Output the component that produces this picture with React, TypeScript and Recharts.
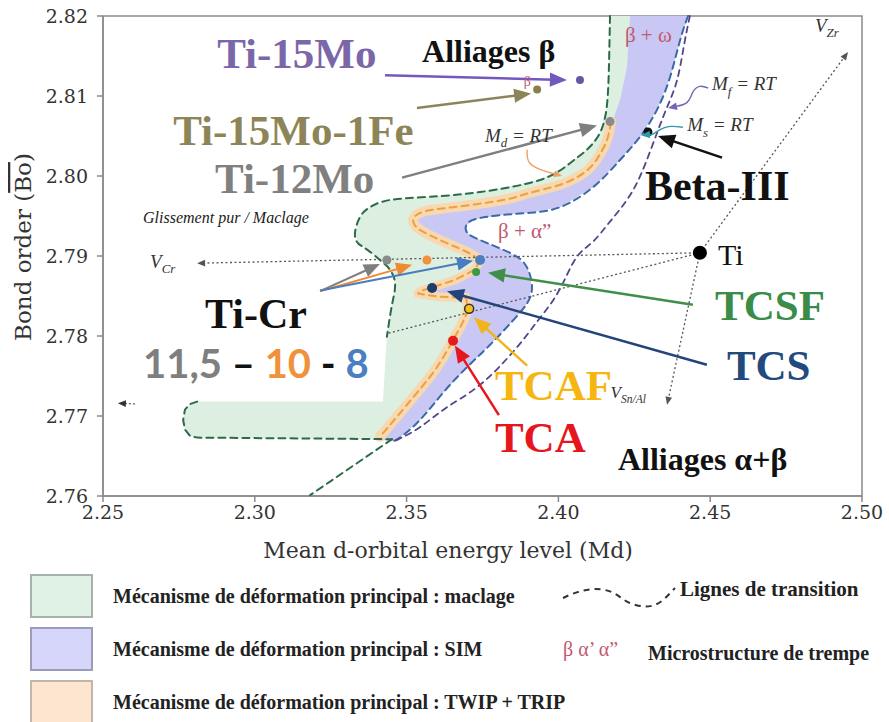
import React from 'react';
import { ComposedChart, Scatter, XAxis, YAxis, ReferenceArea, Curve, Label } from 'recharts';

// axis ticks (Md, Bo)
const xTicks = [2.25, 2.3, 2.35, 2.4, 2.45, 2.5];
const yTicks = [2.76, 2.77, 2.78, 2.79, 2.8, 2.81, 2.82];

// boundary lines, as [Md, Bo]
const maclageLine = [
  [2.417, 2.82], [2.4167, 2.8145], [2.416, 2.8089], [2.4137, 2.8054], [2.4094, 2.8033],
  [2.4038, 2.8016], [2.3939, 2.7995], [2.3742, 2.798], [2.3577, 2.7974], [2.3445, 2.797],
  [2.3379, 2.7961], [2.3347, 2.7949], [2.333, 2.7929], [2.334, 2.7916], [2.337, 2.7908],
  [2.3412, 2.7895], [2.3445, 2.7883], [2.3462, 2.7866], [2.3455, 2.7845], [2.3445, 2.7824],
  [2.3435, 2.7799],
];
const maclageCut = [[2.3422, 2.7718]];
const maclageFoot = [
  [2.281, 2.7718], [2.2787, 2.7715], [2.277, 2.7708], [2.2764, 2.7695], [2.277, 2.7683],
  [2.2787, 2.7675], [2.281, 2.7673], [2.3452, 2.7671],
];
const transitionTail = [[2.3452, 2.7671], [2.3182, 2.7601]];

const simLine = [
  [2.4427, 2.82], [2.4401, 2.817], [2.4368, 2.8124], [2.4325, 2.8083], [2.4269, 2.8049],
  [2.4203, 2.802], [2.4114, 2.7986], [2.4005, 2.7961], [2.3906, 2.7954], [2.3808, 2.7951],
  [2.3725, 2.7946], [2.3696, 2.7938], [2.3702, 2.7928], [2.3742, 2.792], [2.3798, 2.7911],
  [2.3864, 2.7899], [2.39, 2.7883], [2.3913, 2.7861], [2.3897, 2.7841], [2.3847, 2.7818],
  [2.3775, 2.7789], [2.3699, 2.7761], [2.362, 2.7729], [2.3544, 2.7695], [2.3478, 2.7673],
  [2.3455, 2.7669],
];
const simTopEdge = [[2.4236, 2.82], [2.4226, 2.8136], [2.4203, 2.8095], [2.418, 2.807]];
const simFootTip = [[2.3386, 2.767]];

const twipTop = [
  [2.4173, 2.8068], [2.416, 2.8045], [2.413, 2.8023], [2.4088, 2.8005], [2.4005, 2.7989],
  [2.3906, 2.7979], [2.3818, 2.797], [2.3653, 2.7961], [2.3561, 2.7956], [2.3524, 2.7948],
  [2.3528, 2.7938], [2.3561, 2.7929], [2.3633, 2.7916], [2.3699, 2.7905], [2.3742, 2.7895],
];
const twipSpur = [
  [2.3742, 2.7895], [2.3725, 2.7883], [2.3659, 2.787], [2.3544, 2.7856], [2.3538, 2.7853],
  [2.361, 2.7849], [2.3696, 2.7848], [2.3702, 2.7833],
];
const twipLow = [
  [2.3702, 2.7833], [2.3686, 2.7818], [2.3653, 2.7795], [2.36, 2.7761], [2.3534, 2.7729],
  [2.3468, 2.7699], [2.3412, 2.7674],
];

const mfLine = [
  [2.4433, 2.82], [2.4414, 2.8164], [2.4391, 2.812], [2.4358, 2.8086], [2.4325, 2.8054],
  [2.4285, 2.8014], [2.4236, 2.7976], [2.417, 2.7943], [2.4114, 2.7918], [2.4065, 2.7901],
  [2.4025, 2.7874], [2.3985, 2.7846], [2.393, 2.7818], [2.3857, 2.7783], [2.3742, 2.7739],
  [2.3633, 2.7711], [2.3544, 2.7686], [2.3462, 2.7669],
];

// composition vectors starting at pure Ti
const tiPoint = [2.4466, 2.7904];
const vectors = [
  { name: 'VCr', to: [2.281, 2.7891] },
  { name: 'VSnAl', to: [2.4358, 2.7714] },
  { name: 'VZr', to: [2.4954, 2.8155] },
  { name: 'VAl', to: [2.3435, 2.7803] },
];

// pointers and arrows
const pointers = [
  { name: 'Mf', path: [[2.4493, 2.811], [2.4466, 2.8112], [2.4443, 2.8105], [2.4424, 2.8092], [2.4387, 2.8087], [2.4361, 2.8085]] },
  { name: 'Ms', path: [[2.441, 2.8061], [2.4368, 2.8062], [2.4335, 2.8058], [2.4309, 2.8052], [2.4272, 2.8051]] },
  { name: 'Md', path: [[2.3897, 2.8033], [2.3906, 2.8016], [2.3956, 2.8006], [2.4012, 2.8]] },
  { name: 'Ti-15Mo', path: [[2.3429, 2.8126], [2.4028, 2.812]] },
  { name: 'Ti-15Mo-1Fe', path: [[2.3534, 2.8085], [2.391, 2.8103]] },
  { name: 'Ti-12Mo', path: [[2.3485, 2.7998], [2.4127, 2.8063]] },
  { name: 'Beta-III', path: [[2.4539, 2.8023], [2.4328, 2.805]] },
  { name: 'Cr11', path: [[2.3215, 2.7856], [2.3412, 2.789]] },
  { name: 'Cr10', path: [[2.3215, 2.7856], [2.3518, 2.7889]] },
  { name: 'Cr8', path: [[2.3215, 2.7857], [2.3719, 2.7894]] },
  { name: 'TCSF', path: [[2.4443, 2.7839], [2.3768, 2.7879]] },
  { name: 'TCS', path: [[2.4489, 2.7764], [2.3633, 2.7856]] },
  { name: 'TCAF', path: [[2.3897, 2.7763], [2.3722, 2.7823]] },
  { name: 'TCA', path: [[2.3804, 2.7701], [2.3659, 2.7788]] },
  { name: 'stub', path: [[2.2605, 2.7715], [2.2549, 2.7716]] },
];

// alloys
const alloyDots = [
  { name: 'Ti-15Mo', x: 2.4071, y: 2.812 },
  { name: 'Ti-15Mo-1Fe', x: 2.393, y: 2.8108 },
  { name: 'Ti-12Mo', x: 2.417, y: 2.8068 },
  { name: 'Beta-III', x: 2.4295, y: 2.8055 },
  { name: 'Ti', x: 2.4466, y: 2.7904 },
  { name: 'Ti-11.5Cr', x: 2.3435, y: 2.7895 },
  { name: 'Ti-10Cr', x: 2.3567, y: 2.7895 },
  { name: 'Ti-8Cr', x: 2.3742, y: 2.7895 },
  { name: 'TCSF', x: 2.3729, y: 2.788 },
  { name: 'TCS', x: 2.3584, y: 2.786 },
  { name: 'TCAF', x: 2.3706, y: 2.7834 },
  { name: 'TCA', x: 2.3653, y: 2.7794 },
];

// texts, anchored at start / baseline
const labels = [
  { id: 'Ti-15Mo', text: 'Ti-15Mo', x: 2.2876, y: 2.8135 },
  { id: 'alliagesB', text: 'Alliages β', x: 2.3551, y: 2.8143 },
  { id: 'Ti-15Mo-1Fe', text: 'Ti-15Mo-1Fe', x: 2.2731, y: 2.8039 },
  { id: 'Ti-12Mo', text: 'Ti-12Mo', x: 2.2869, y: 2.7979 },
  { id: 'glissement', text: 'Glissement pur / Maclage', x: 2.2632, y: 2.7941 },
  { id: 'VCr', text: 'V|Cr', x: 2.2655, y: 2.7885 },
  { id: 'Ti-Cr', text: 'Ti-Cr', x: 2.2836, y: 2.781 },
  { id: 'crNums', text: '11,5| – |10| - |8', x: 2.2632, y: 2.7748 },
  { id: 'Beta-III', text: 'Beta-III', x: 2.4285, y: 2.797 },
  { id: 'Ti', text: 'Ti', x: 2.4526, y: 2.7889 },
  { id: 'TCSF', text: 'TCSF', x: 2.4516, y: 2.782 },
  { id: 'TCS', text: 'TCS', x: 2.4555, y: 2.7745 },
  { id: 'VSnAl', text: 'V|Sn/Al', x: 2.4172, y: 2.7722 },
  { id: 'TCAF', text: 'TCAF', x: 2.3791, y: 2.772 },
  { id: 'TCA', text: 'TCA', x: 2.3791, y: 2.7655 },
  { id: 'alliagesAB', text: 'Alliages α+β', x: 2.4196, y: 2.7633 },
  { id: 'VZr', text: 'V|Zr', x: 2.4845, y: 2.818 },
  { id: 'Mf', text: 'M|f| = RT', x: 2.4506, y: 2.8107 },
  { id: 'Ms', text: 'M|s| = RT', x: 2.4424, y: 2.8056 },
  { id: 'Md', text: 'M|d| = RT', x: 2.3758, y: 2.8043 },
  { id: 'bw', text: 'β + ω', x: 2.4219, y: 2.8168 },
  { id: 'ba', text: 'β + α”', x: 2.3801, y: 2.7922 },
  { id: 'bSmall', text: 'β', x: 2.3886, y: 2.8112 },
];

const legendBoxes = [
  { label: 'Mécanisme de déformation principal : maclage', fill: '#e0f2e5', border: '#a7b3aa' },
  { label: 'Mécanisme de déformation principal : SIM', fill: '#d6d6fb', border: '#9c9cb8' },
  { label: 'Mécanisme de déformation principal : TWIP + TRIP', fill: '#fde6cf', border: '#c4b6a6' },
];

const SERIF = '"Liberation Serif", serif';
const AXIS_FONT = '"DejaVu Serif", serif';

const labelStyles: Record<string, any> = {
  'Ti-15Mo': { color: '#7a66a8', size: 43, bold: true },
  alliagesB: { color: '#111', size: 32, bold: true },
  'Ti-15Mo-1Fe': { color: '#8d8557', size: 43, bold: true },
  'Ti-12Mo': { color: '#808080', size: 43, bold: true },
  glissement: { color: '#222', size: 16, italic: true },
  VCr: { color: '#333', size: 19, italic: true, sub: true },
  'Ti-Cr': { color: '#111', size: 42, bold: true },
  crNums: { color: '#111', size: 40, bold: true, font: 'Lato, sans-serif', parts: ['#7f7f7f', '#111', '#f0923c', '#111', '#4a7fc1'] },
  'Beta-III': { color: '#111', size: 42, bold: true },
  Ti: { color: '#111', size: 30 },
  TCSF: { color: '#3a8c48', size: 43, bold: true },
  TCS: { color: '#234a7c', size: 43, bold: true },
  VSnAl: { color: '#333', size: 17, italic: true, sub: true },
  TCAF: { color: '#f5b60f', size: 43, bold: true },
  TCA: { color: '#e5171d', size: 43, bold: true },
  alliagesAB: { color: '#111', size: 32, bold: true },
  VZr: { color: '#333', size: 19, italic: true, sub: true },
  Mf: { color: '#333', size: 19, italic: true, sub: true },
  Ms: { color: '#333', size: 19, italic: true, sub: true },
  Md: { color: '#333', size: 19, italic: true, sub: true },
  bw: { color: '#c0596e', size: 21 },
  ba: { color: '#c0596e', size: 21 },
  bSmall: { color: '#c0596e', size: 14 },
};

const dotStyles: Record<string, any> = {
  'Ti-15Mo': { r: 4, fill: '#6a55a8' },
  'Ti-15Mo-1Fe': { r: 4, fill: '#8a7d4a' },
  'Ti-12Mo': { r: 4.5, fill: '#8a8a8a' },
  'Beta-III': { r: 4.5, fill: '#111' },
  Ti: { r: 7, fill: '#000' },
  'Ti-11.5Cr': { r: 4.5, fill: '#8a8a8a' },
  'Ti-10Cr': { r: 4.5, fill: '#f0923c' },
  'Ti-8Cr': { r: 5, fill: '#4a7fc1' },
  TCSF: { r: 4, fill: '#3a9a45' },
  TCS: { r: 5, fill: '#1f3c6e' },
  TCAF: { r: 4.5, fill: '#f6c21a', stroke: '#333', sw: 1.5 },
  TCA: { r: 5, fill: '#e31b1b' },
};

const pointerStyles: Record<string, any> = {
  Mf: { color: '#7a62b8', width: 1.4, head: 9, curve: 'natural' },
  Ms: { color: '#2f9aa8', width: 1.4, head: 9, curve: 'natural' },
  Md: { color: '#ef9f62', width: 1.4, head: 8, curve: 'natural' },
  'Ti-15Mo': { color: '#7358bd', width: 2.5, head: 17 },
  'Ti-15Mo-1Fe': { color: '#8d8557', width: 2.5, head: 17 },
  'Ti-12Mo': { color: '#7f7f7f', width: 2.5, head: 17 },
  'Beta-III': { color: '#111', width: 2.5, head: 17 },
  Cr11: { color: '#7f7f7f', width: 2, head: 16 },
  Cr10: { color: '#f08a30', width: 2, head: 16 },
  Cr8: { color: '#4a7cc0', width: 2, head: 16 },
  TCSF: { color: '#3f8f49', width: 2.5, head: 17 },
  TCS: { color: '#24457a', width: 2.5, head: 17 },
  TCAF: { color: '#f2b31b', width: 2.5, head: 17 },
  TCA: { color: '#e5171d', width: 2.5, head: 17 },
  stub: { color: '#333', width: 1, head: 8, dash: '2 2' },
};

const vectorHeads: Record<string, number> = { VCr: 8, VSnAl: 8, VZr: 8, VAl: 0 };

const pairs = (a: number[][]) => a.map(([x, y]) => ({ x, y }));
const rev = (a: number[][]) => [...a].reverse();

const maclageArea = pairs([...maclageLine, ...maclageCut, ...maclageFoot, ...rev(simLine)]);
const simArea = pairs([...simTopEdge, ...twipTop, ...twipSpur, ...twipLow, ...simFootTip, ...rev(simLine)]);

const noShape = () => <g />;

const areaRenderer = (fill: string) => (p: any) => (
  <Curve points={p.points} type="linear" fill={fill} stroke="none" />
);

const strokeRenderer = (type: string, stroke: string, width: number, dash?: string) => (p: any) => (
  <Curve
    points={p.points}
    type={type as any}
    fill="none"
    stroke={stroke}
    strokeWidth={width}
    strokeDasharray={dash}
    strokeLinecap="round"
    strokeLinejoin="round"
  />
);

const arrowRenderer = (color: string, width: number, head: number, dash?: string, curve = 'linear') => (p: any) => {
  const pts = p.points;
  const n = pts.length;
  const a = pts[n - 2];
  const b = pts[n - 1];
  const ang = Math.atan2(b.y - a.y, b.x - a.x);
  const c = Math.cos(ang);
  const s = Math.sin(ang);
  const back = head ? head * 0.75 : 0;
  const end = { x: b.x - c * back, y: b.y - s * back };
  const hw = head * 0.42;
  const tri = `${b.x},${b.y} ${b.x - c * head - s * hw},${b.y - s * head + c * hw} ${b.x - c * head + s * hw},${b.y - s * head - c * hw}`;
  return (
    <g>
      <Curve points={[...pts.slice(0, n - 1), end]} type={curve as any} fill="none" stroke={color} strokeWidth={width} strokeDasharray={dash} />
      {head > 0 && <polygon points={tri} fill={color} />}
    </g>
  );
};

const DotMark = (p: any) => {
  const s = dotStyles[p.payload.name];
  return <circle cx={p.cx} cy={p.cy} r={s.r} fill={s.fill} stroke={s.stroke || 'none'} strokeWidth={s.sw || 0} />;
};

const TextMark = (p: any) => {
  const { id, text } = p.payload;
  const s = labelStyles[id];
  const base: any = {
    x: p.cx,
    y: p.cy,
    fill: s.color,
    fontSize: s.size,
    fontFamily: s.font || SERIF,
    fontWeight: s.bold ? 700 : 400,
    fontStyle: s.italic ? 'italic' : 'normal',
    style: { whiteSpace: 'pre' },
  };
  const parts = text.split('|');
  if (s.parts) {
    return (
      <text {...base}>
        {parts.map((t: string, i: number) => (
          <tspan key={i} fill={s.parts[i]}>{t}</tspan>
        ))}
      </text>
    );
  }
  if (s.sub) {
    const d = s.size * 0.28;
    return (
      <text {...base}>
        {parts[0]}
        <tspan fontSize={s.size * 0.68} dy={d}>{parts[1]}</tspan>
        {parts[2] && <tspan fontSize={s.size} dy={-d}>{parts[2]}</tspan>}
      </text>
    );
  }
  return <text {...base}>{text}</text>;
};

const XTitle = (p: any) => {
  const vb = p.viewBox;
  return (
    <text x={vb.x + 345} y={vb.y + 62} textAnchor="middle" fontFamily={AXIS_FONT} fontSize={22} fill="#333">
      Mean d-orbital energy level (Md)
    </text>
  );
};

const YTitle = (p: any) => {
  const vb = p.viewBox;
  const cx = vb.x + 31;
  const cy = vb.y + 231;
  return (
    <text x={cx} y={cy} textAnchor="middle" transform={`rotate(-90 ${cx} ${cy})`} fontFamily={AXIS_FONT} fontSize={23} fill="#333">
      Bond order (<tspan textDecoration="overline">Bo</tspan>)
    </text>
  );
};

const Legend = () => (
  <svg width={889} height={152} style={{ position: 'absolute', left: 0, top: 570 }}>
    {legendBoxes.map((b, i) => (
      <g key={b.label}>
        <rect x={31} y={5 + i * 53} width={61} height={42} fill={b.fill} stroke={b.border} strokeWidth={2} />
        <text x={113} y={33 + i * 53} fontFamily={SERIF} fontWeight={700} fontSize={20} fill="#222">
          {b.label}
        </text>
      </g>
    ))}
    <path d="M563,28 C575,22 590,17 605,20 S622,33 640,36 S665,28 675,18" fill="none" stroke="#333" strokeWidth={2} strokeDasharray="6 5" />
    <text x={680} y={26} fontFamily={SERIF} fontWeight={700} fontSize={21} fill="#222">Lignes de transition</text>
    <text x={563} y={86} fontFamily={SERIF} fontSize={20} fill="#c0596e">β α’ α”</text>
    <text x={648} y={90} fontFamily={SERIF} fontWeight={700} fontSize={20} fill="#222">Microstructure de trempe</text>
  </svg>
);

export default function App() {
  return (
    <div style={{ position: 'absolute', left: 0, top: 0, width: 889, height: 722, background: '#fff', overflow: 'hidden' }}>
      <ComposedChart width={889} height={570} margin={{ top: 16, right: 27, bottom: 14, left: 0 }}>
        <XAxis
          type="number"
          dataKey="x"
          domain={[2.25, 2.5]}
          ticks={xTicks}
          interval={0}
          tickFormatter={(v: number) => v.toFixed(2)}
          height={60}
          stroke="#8a8a8a"
          strokeWidth={1.5}
          tickSize={6}
          tickMargin={4}
          tick={{ fill: '#333', fontSize: 19, fontFamily: AXIS_FONT }}
        >
          <Label content={XTitle} />
        </XAxis>
        <YAxis
          type="number"
          dataKey="y"
          domain={[2.76, 2.82]}
          ticks={yTicks}
          interval={0}
          tickFormatter={(v: number) => v.toFixed(2)}
          width={103}
          stroke="#8a8a8a"
          strokeWidth={1.5}
          tickSize={6}
          tickMargin={9}
          tick={{ fill: '#333', fontSize: 19, fontFamily: AXIS_FONT }}
        >
          <Label content={YTitle} />
        </YAxis>
        <ReferenceArea x1={2.25} x2={2.5} y1={2.76} y2={2.82} fill="none" stroke="#8a8a8a" strokeWidth={1.5} />

        {/* deformation regions */}
        <Scatter data={maclageArea} shape={noShape} line={areaRenderer('#dcefe0')} isAnimationActive={false} />
        <Scatter data={simArea} shape={noShape} line={areaRenderer('#c9c8f4')} isAnimationActive={false} />
        <Scatter data={pairs(twipTop)} shape={noShape} line={strokeRenderer('natural', '#f8d8ae', 10)} isAnimationActive={false} />
        <Scatter data={pairs(twipSpur)} shape={noShape} line={strokeRenderer('linear', '#f8d8ae', 9)} isAnimationActive={false} />
        <Scatter data={pairs(twipLow)} shape={noShape} line={strokeRenderer('natural', '#f8d8ae', 10)} isAnimationActive={false} />

        {/* transition lines */}
        <Scatter data={pairs(maclageLine)} shape={noShape} line={strokeRenderer('natural', '#2c6a48', 2, '7 5')} isAnimationActive={false} />
        <Scatter data={pairs(maclageFoot)} shape={noShape} line={strokeRenderer('linear', '#2c6a48', 2, '7 5')} isAnimationActive={false} />
        <Scatter data={pairs(transitionTail)} shape={noShape} line={strokeRenderer('linear', '#2c6a48', 2, '7 5')} isAnimationActive={false} />
        <Scatter data={pairs(simLine)} shape={noShape} line={strokeRenderer('natural', '#3b69a7', 2, '7 5')} isAnimationActive={false} />
        <Scatter data={pairs(mfLine)} shape={noShape} line={strokeRenderer('natural', '#54458a', 1.8, '6 5')} isAnimationActive={false} />
        <Scatter data={pairs(twipTop)} shape={noShape} line={strokeRenderer('natural', '#eca044', 2, '7 5')} isAnimationActive={false} />
        <Scatter data={pairs(twipSpur)} shape={noShape} line={strokeRenderer('linear', '#eca044', 2, '7 5')} isAnimationActive={false} />
        <Scatter data={pairs(twipLow)} shape={noShape} line={strokeRenderer('natural', '#eca044', 2, '7 5')} isAnimationActive={false} />

        {/* composition vectors */}
        {vectors.map((v) => (
          <Scatter
            key={v.name}
            data={pairs([tiPoint, v.to])}
            shape={noShape}
            line={arrowRenderer('#555', 1.3, vectorHeads[v.name], '2 2.5')}
            isAnimationActive={false}
          />
        ))}

        <Scatter data={alloyDots} shape={DotMark} isAnimationActive={false} />

        {pointers.map((a) => {
          const s = pointerStyles[a.name];
          return (
            <Scatter
              key={a.name}
              data={pairs(a.path)}
              shape={noShape}
              line={arrowRenderer(s.color, s.width, s.head, s.dash, s.curve || 'linear')}
              isAnimationActive={false}
            />
          );
        })}

        <Scatter data={labels} shape={TextMark} isAnimationActive={false} />
      </ComposedChart>
      <Legend />
    </div>
  );
}
